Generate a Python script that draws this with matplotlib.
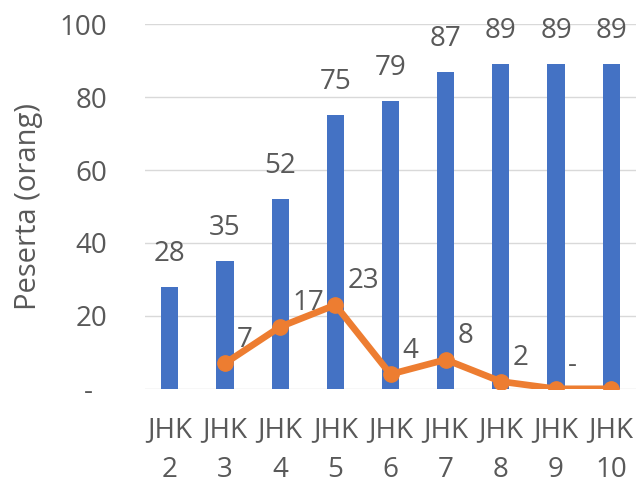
import numpy as np
import matplotlib.pyplot as plt

plt.rcParams['font.family'] = ['Open Sans', 'DejaVu Sans']

categories = ["JHK\n2", "JHK\n3", "JHK\n4", "JHK\n5", "JHK\n6", "JHK\n7", "JHK\n8", "JHK\n9", "JHK\n10"]
bar_values = [28, 35, 52, 75, 79, 87, 89, 89, 89]
# line series starts at JHK 3
line_values = [None, 7, 17, 23, 4, 8, 2, 0, 0]
line_labels = ["", "7", "17", "23", "4", "8", "2", "-", ""]
y_ticks = [0, 20, 40, 60, 80, 100]
y_ticklabels = ["-  ", "20", "40", "60", "80", "100"]

blue = '#4472C4'
orange = '#ED7D31'
gray = '#595959'
fs = 20

fig = plt.figure(figsize=(6.36, 4.83), dpi=100)
ax = fig.add_axes([0.228, 0.195, 0.772, 0.755])

x = np.arange(len(categories))
ax.bar(x, bar_values, width=0.31, color=blue, zorder=2)
for xi, v in zip(x, bar_values):
    ax.text(xi, v + 9, str(v), ha='center', va='center', fontsize=fs, color=gray)

lx = [xi for xi, v in zip(x, line_values) if v is not None]
ly = [v for v in line_values if v is not None]
ax.plot(lx, ly, color=orange, lw=4.8, marker='o', markersize=11, zorder=3)
for xi, v, lab in zip(x, line_values, line_labels):
    if v is None or not lab:
        continue
    ax.text(xi + 0.22, v + 6.5, lab, ha='left', va='center', fontsize=fs, color=gray)

ax.set_xlim(-0.45, len(categories) - 0.55)
ax.set_ylim(0, 100)
ax.set_yticks(y_ticks)
ax.set_yticklabels(y_ticklabels)
ax.set_xticks(x)
ax.set_xticklabels(categories, linespacing=1.55)
ax.tick_params(axis='both', length=0, labelsize=fs, labelcolor=gray)
ax.tick_params(axis='y', pad=27)
ax.tick_params(axis='x', pad=20)
ax.grid(axis='y', color='#D9D9D9', lw=1, zorder=0)
ax.set_axisbelow(True)
for s in ax.spines.values():
    s.set_visible(False)
ax.set_ylabel("Peserta (orang)", fontsize=21, color=gray, labelpad=12)

fig.savefig('out.png', dpi=100)
